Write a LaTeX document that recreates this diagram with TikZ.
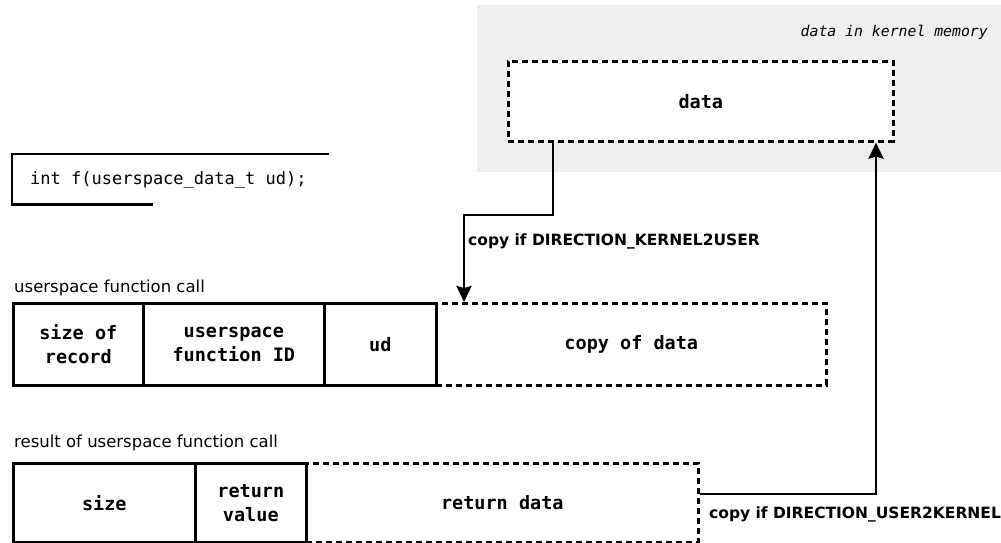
\documentclass[tikz,border=0pt]{standalone}
\usepackage{fontspec}
\setmainfont{DejaVu Sans}
\setmonofont{DejaVu Sans Mono}
\newfontfamily\labelbold{DejaVu Sans Bold}
\usetikzlibrary{arrows.meta,calc}
\definecolor{kernelgray}{HTML}{EFEFEF}
\tikzset{
  field/.style={draw, line width=2.6pt, anchor=north west, inner sep=0pt, align=center,
    font=\ttfamily\bfseries\fontsize{18.5}{24}\selectfont},
  dfield/.style={field, line width=2.6pt, dash pattern=on 6pt off 4pt},
  caption/.style={anchor=base west, inner sep=0pt, font=\fontsize{16.5}{19}\selectfont},
  flowlabel/.style={anchor=base west, inner sep=0pt, font=\labelbold\fontsize{15.5}{18}\selectfont},
  flow/.style={line width=2.8pt, -{Stealth[length=16pt,width=15pt,inset=2pt]}},
}
\begin{document}
\begin{tikzpicture}[x=1pt,y=-1pt]
\useasboundingbox (0,0) rectangle (1001,543);

% kernel memory area
\fill[kernelgray] (477,5) rectangle (1001,172);
\node[anchor=base east, inner sep=0pt, font=\ttfamily\itshape\fontsize{14.8}{18}\selectfont] (kmem) at (988,37) {data in kernel memory};
\node[dfield, fill=white, minimum width=385pt, minimum height=80pt] (data) at (507,60) {data};

% function prototype
\node[anchor=north west, inner sep=0pt, minimum width=317pt, minimum height=50pt] (proto) at (12,154) {};
\node[anchor=west, inner sep=0pt, font=\ttfamily\fontsize{17}{20}\selectfont] (prototext) at (30,180) {int f(userspace\_data\_t ud);};
\draw[line width=2.6pt] (proto.north east) -- (proto.north west) -- (proto.south west) -- ($(proto.south west)+(141,0)$);

% userspace function call record
\node[caption] (calllbl) at (14,292) {userspace function call};
\node[field, minimum width=130pt, minimum height=82pt] (size) at (12,302) {size of\\record};
\node[field, minimum width=181pt, minimum height=82pt] (fid) at (142,302) {userspace\\function ID};
\node[field, minimum width=112pt, minimum height=82pt] (ud) at (323,302) {ud};
\node[dfield, minimum width=390pt, minimum height=82pt] (copy) at (435,302) {copy of data};

% result record
\node[caption] (resultlbl) at (14,447) {result of userspace function call};
\node[field, minimum width=182pt, minimum height=79pt] (rsize) at (12,462) {size};
\node[field, minimum width=111pt, minimum height=79pt] (rval) at (194,462) {return\\value};
\node[dfield, minimum width=392pt, minimum height=79pt] (rdata) at (305,462) {return data};

% copy directions
\coordinate (k1) at (553,215);
\coordinate (k2) at (464,215);
\draw[flow] (data.south west -| k1) -- (k1) -- (k2) -- (k2 |- copy.north);
\node[flowlabel] (k2ulbl) at (468,245) {copy if DIRECTION\_KERNEL2USER};

\coordinate (u1) at (876,494);
\draw[flow] (rdata.east |- u1) -- (u1) -- (u1 |- data.south);
\node[flowlabel] (u2klbl) at (709,518) {copy if DIRECTION\_USER2KERNEL};
\end{tikzpicture}
\end{document}
